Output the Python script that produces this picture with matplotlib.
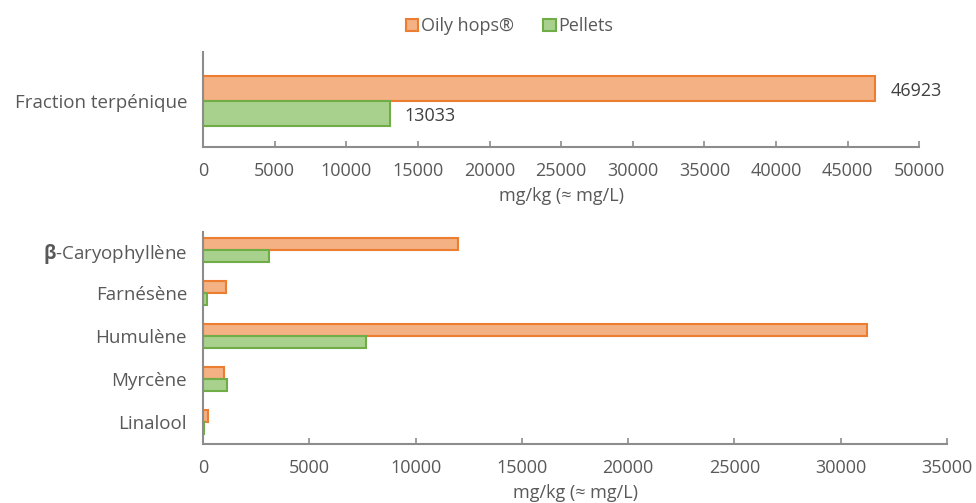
import numpy as np
import matplotlib
matplotlib.use('Agg')
import matplotlib.pyplot as plt
from matplotlib.patches import Patch

plt.rcParams['font.family'] = ['Open Sans', 'DejaVu Sans']
plt.rcParams['mathtext.fontset'] = 'custom'
plt.rcParams['mathtext.bf'] = 'Open Sans:bold'
plt.rcParams['mathtext.rm'] = 'Open Sans'

# Data
top_cat = ['Fraction terpénique']
top_oily = [46923]
top_pellets = [13033]

cats = [r'$\mathbf{\beta}$-Caryophyllène', 'Farnésène', 'Humulène', 'Myrcène', 'Linalool']
oily = [12000, 1080, 31250, 990, 240]
pellets = [3100, 200, 7650, 1120, 60]

series_names = ['Oily hops®', 'Pellets']

# Style
text_col = '#595959'
spine_col = '#8c8c8c'
or_fill, or_edge = '#F4B183', '#ED7D31'
gr_fill, gr_edge = '#A9D18E', '#70AD47'
fs = 13.5
fs_tick = 13

fig = plt.figure(figsize=(9.76, 5.03), dpi=100)

def style_axes(ax, xmax):
    for s in ['top', 'right']:
        ax.spines[s].set_visible(False)
    ax.spines['left'].set_color(spine_col)
    ax.spines['bottom'].set_color(spine_col)
    ax.spines['left'].set_linewidth(1.5)
    ax.spines['bottom'].set_linewidth(1.5)
    ax.set_xlim(0, xmax)
    ax.set_xticks(np.arange(0, xmax + 1, 5000))
    ax.tick_params(axis='x', colors=spine_col, labelcolor=text_col, labelsize=fs_tick,
                   length=4, width=1.2, direction='in', pad=11)
    ax.tick_params(axis='y', length=0, labelcolor=text_col, labelsize=fs, pad=11.5)
    ax.set_xlabel('mg/kg (≈ mg/L)', color=text_col, fontsize=fs_tick, labelpad=5)

# Top chart
ax1 = fig.add_axes([0.208, 0.7078, 0.734, 0.189])
h = 0.526
y = np.arange(len(top_cat))
ax1.barh(y + h / 2, top_oily, height=h, color=or_fill, edgecolor=or_edge, linewidth=1.5)
ax1.barh(y - h / 2, top_pellets, height=h, color=gr_fill, edgecolor=gr_edge, linewidth=1.5)
ax1.set_ylim(-0.97, 1.03)
ax1.set_yticks(y)
ax1.set_yticklabels(top_cat)
style_axes(ax1, 50000)
for v, yy in zip(top_oily, y + h / 2):
    ax1.text(v + 1050, yy - 0.05, str(v), va='center', ha='left', color='#404040', fontsize=fs_tick)
for v, yy in zip(top_pellets, y - h / 2):
    ax1.text(v + 1050, yy - 0.05, str(v), va='center', ha='left', color='#404040', fontsize=fs_tick)

# Bottom chart
ax2 = fig.add_axes([0.208, 0.1173, 0.7623, 0.4215])
h2 = 0.286
y2 = np.arange(len(cats))
ax2.barh(y2 - h2 / 2, oily, height=h2, color=or_fill, edgecolor=or_edge, linewidth=1.5)
ax2.barh(y2 + h2 / 2, pellets, height=h2, color=gr_fill, edgecolor=gr_edge, linewidth=1.5)
ax2.set_ylim(len(cats) - 1 + 0.51, -0.42)
ax2.set_yticks(y2)
ax2.set_yticklabels(cats)
style_axes(ax2, 35000)

# Legend
handles = [Patch(facecolor=or_fill, edgecolor=or_edge, linewidth=1.5),
           Patch(facecolor=gr_fill, edgecolor=gr_edge, linewidth=1.5)]
fig.legend(handles, series_names, loc='center', bbox_to_anchor=(0.522, 0.948), ncol=2,
           frameon=False, fontsize=fs_tick, labelcolor=text_col, handlelength=0.7,
           handleheight=0.7, handletextpad=0.15, columnspacing=1.6)

fig.savefig('out.png', dpi=100)
